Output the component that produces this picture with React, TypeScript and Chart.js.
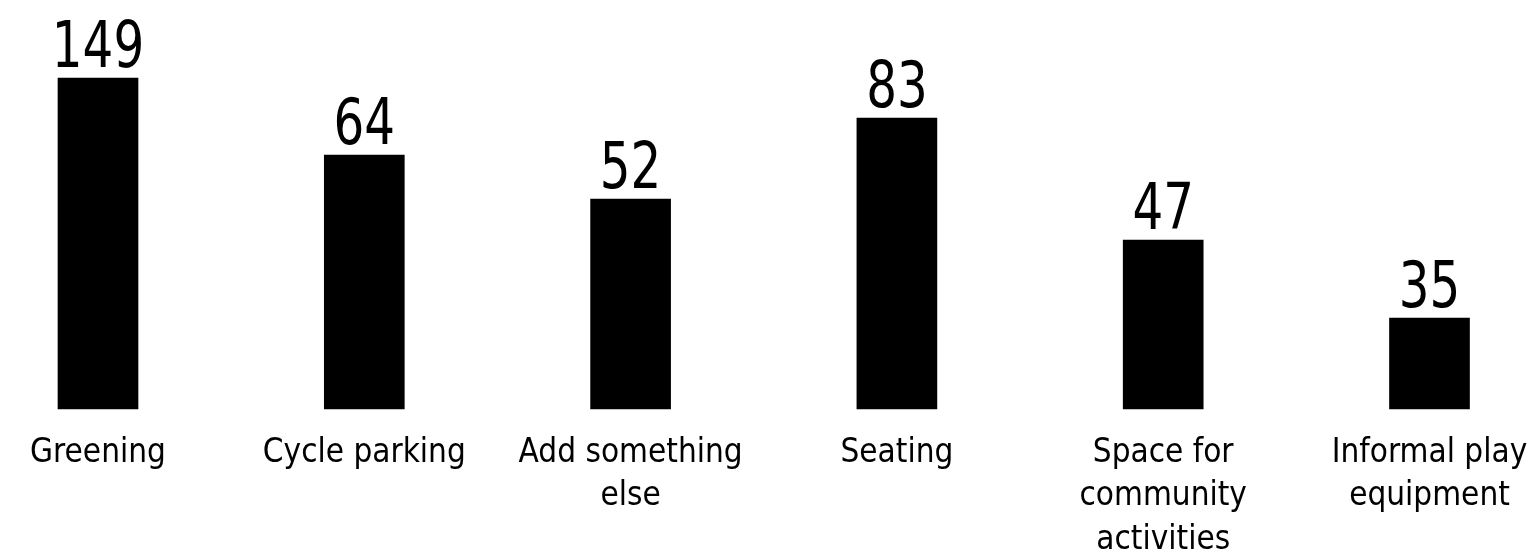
import React, { useEffect, useRef } from "react";
import { Chart, registerables } from "chart.js";

Chart.register(...registerables);

// Category labels (multi-line as in the picture)
const categories: string[][] = [
  ["Greening"],
  ["Cycle parking"],
  ["Add something", "else"],
  ["Seating"],
  ["Space for", "community", "activities"],
  ["Informal play", "equipment"],
];

// Numbers printed above the bars
const responseCounts = [149, 64, 52, 83, 47, 35];

// Bar lengths as they appear in the picture (the drawing is not to scale with the printed numbers)
const barLengths = [331, 254, 210, 291, 169, 91];

const yMax = 350;

const FONT_FAMILY =
  "'Liberation Sans Narrow', 'Arial Narrow', 'DejaVu Sans Condensed', sans-serif";

const valueLabels = {
  id: "valueLabels",
  afterDatasetsDraw(chart: any) {
    const ctx = chart.ctx;
    const meta = chart.getDatasetMeta(0);
    meta.data.forEach((bar: any, i: number) => {
      ctx.save();
      ctx.font = `64px ${FONT_FAMILY}`;
      ctx.fillStyle = "#000000";
      ctx.textAlign = "center";
      ctx.textBaseline = "alphabetic";
      ctx.translate(bar.x, bar.y - 11);
      ctx.scale(0.84, 1);
      ctx.fillText(String(responseCounts[i]), 0, 0);
      ctx.restore();
    });
  },
};

export default function App() {
  const canvasRef = useRef<HTMLCanvasElement | null>(null);

  useEffect(() => {
    if (!canvasRef.current) return;
    const chart = new Chart(canvasRef.current, {
      type: "bar",
      data: {
        labels: categories,
        datasets: [
          {
            data: barLengths,
            backgroundColor: "#000000",
            borderWidth: 0,
            barThickness: 80,
            clip: false as any,
          },
        ],
      },
      options: {
        responsive: false,
        animation: false,
        devicePixelRatio: 1,
        layout: {
          padding: { top: 59, left: 98, right: 97.5, bottom: 0 },
        },
        plugins: {
          legend: { display: false },
          tooltip: { enabled: false },
          title: { display: false },
        },
        scales: {
          x: {
            offset: false,
            grid: { display: false, drawTicks: false },
            border: { display: false },
            ticks: {
              color: "#000000",
              padding: 22,
              maxRotation: 0,
              autoSkip: false,
              font: { family: FONT_FAMILY, size: 33, lineHeight: 1.33 },
            },
            afterFit: (scale: any) => {
              scale.height = 146;
              scale.paddingLeft = 0;
              scale.paddingRight = 0;
            },
          },
          y: {
            display: false,
            min: 0,
            max: yMax,
          },
        },
      },
      plugins: [valueLabels],
    });
    return () => chart.destroy();
  }, []);

  return (
    <div style={{ position: "absolute", left: 0, top: 0, width: 1527, height: 555, background: "#ffffff" }}>
      <canvas ref={canvasRef} width={1527} height={555} style={{ display: "block" }} />
    </div>
  );
}
